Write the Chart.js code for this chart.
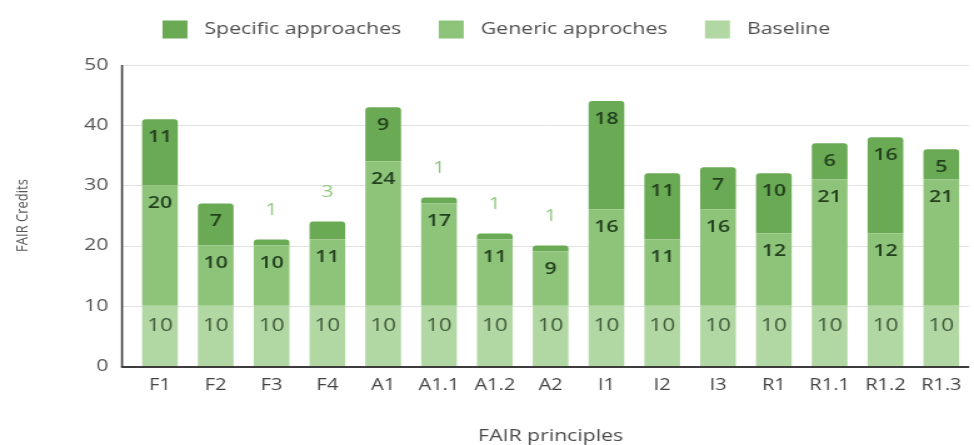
<!DOCTYPE html>
<html>
<head>
<meta charset="utf-8">
<script src="https://cdn.jsdelivr.net/npm/chart.js@4"></script>
<style>
  html, body { margin: 0; padding: 0; background: #fff; }
  /* the original picture is stretched sideways, so the canvas is drawn narrower and widened by CSS */
  #fairChart { display: block; }
</style>
</head>
<body>
<canvas id="fairChart" width="779" height="445" style="width:974px;height:445px"></canvas>
<script>
const categories = ['F1', 'F2', 'F3', 'F4', 'A1', 'A1.1', 'A1.2', 'A2', 'I1', 'I2', 'I3', 'R1', 'R1.1', 'R1.2', 'R1.3'];
const baseline = [10, 10, 10, 10, 10, 10, 10, 10, 10, 10, 10, 10, 10, 10, 10];
const generic = [20, 10, 10, 11, 24, 17, 11, 9, 16, 11, 16, 12, 21, 12, 21];
const specific = [11, 7, 1, 3, 9, 1, 1, 1, 18, 11, 7, 10, 6, 16, 5];
const yTicks = [0, 10, 20, 30, 40, 50];

const colSpecific = 'rgb(106, 170, 84)';
const colGeneric = 'rgb(142, 196, 122)';
const colBaseline = 'rgb(177, 216, 163)';

// grid lines and axis lines start a little left of the plot area, as in the original
const axesPlugin = {
    id: 'axesLines',
    beforeDatasetsDraw(chart) {
        const { ctx, chartArea, scales } = chart;
        const left = chartArea.left - 8;
        ctx.save();
        ctx.strokeStyle = '#e2e2e2';
        ctx.lineWidth = 1;
        yTicks.forEach(v => {
            if (v === 0) return;
            const y = Math.round(scales.y.getPixelForValue(v)) + 0.5;
            ctx.beginPath();
            ctx.moveTo(left, y);
            ctx.lineTo(chartArea.right, y);
            ctx.stroke();
        });
        ctx.restore();
    },
    afterDatasetsDraw(chart) {
        const { ctx, chartArea, scales } = chart;
        const left = chartArea.left - 8;
        const y0 = Math.round(scales.y.getPixelForValue(0)) + 1;
        ctx.save();
        ctx.strokeStyle = '#3c3c3c';
        ctx.lineWidth = 1.6;
        ctx.beginPath();
        ctx.moveTo(left, scales.y.getPixelForValue(50));
        ctx.lineTo(left, y0);
        ctx.stroke();
        ctx.lineWidth = 2;
        ctx.beginPath();
        ctx.moveTo(left - 0.8, y0);
        ctx.lineTo(chartArea.right, y0);
        ctx.stroke();
        ctx.restore();
    }
};

// value labels inside the segments, small ones above the bar
const labelPlugin = {
    id: 'segLabels',
    afterDatasetsDraw(chart) {
        const { ctx } = chart;
        ctx.save();
        ctx.textAlign = 'center';
        ctx.textBaseline = 'middle';
        chart.data.datasets.forEach((ds, i) => {
            const meta = chart.getDatasetMeta(i);
            meta.data.forEach((bar, j) => {
                const v = ds.data[j];
                if (v <= 3) {
                    ctx.font = '17px "Open Sans"';
                    ctx.fillStyle = 'rgb(146, 200, 126)';
                    ctx.fillText(v, bar.x, bar.y - 29);
                } else if (i === 0) {
                    ctx.font = '18px "Open Sans"';
                    ctx.fillStyle = '#3d5838';
                    ctx.fillText(v, bar.x, bar.y + 20);
                } else {
                    ctx.font = '600 17px "Open Sans"';
                    ctx.fillStyle = '#22401e';
                    ctx.fillText(v, bar.x, bar.y + 18);
                }
            });
        });
        ctx.restore();
    }
};

// legend drawn by hand: specific, generic, baseline
const legendPlugin = {
    id: 'topLegend',
    afterDraw(chart) {
        const { ctx } = chart;
        const items = chart.data.datasets.slice().reverse();
        const boxW = 20, boxH = 18, gap = 13.6, itemGap = 30;
        const cy = 29.5;
        ctx.save();
        ctx.font = '17px "Open Sans"';
        ctx.textBaseline = 'middle';
        let total = 0;
        items.forEach((ds, k) => {
            total += boxW + gap + ctx.measureText(ds.label).width + (k < items.length - 1 ? itemGap : 0);
        });
        let x = 397 - total / 2;
        items.forEach(ds => {
            ctx.fillStyle = ds.backgroundColor;
            ctx.fillRect(x, cy - boxH / 2, boxW, boxH);
            x += boxW + gap;
            ctx.fillStyle = '#4f4f4f';
            ctx.fillText(ds.label, x, cy);
            x += ctx.measureText(ds.label).width + itemGap;
        });
        ctx.restore();
    }
};

new Chart(document.getElementById('fairChart'), {
    type: 'bar',
    data: {
        labels: categories,
        datasets: [
            { label: 'Baseline', data: baseline, backgroundColor: colBaseline },
            { label: 'Generic approches', data: generic, backgroundColor: colGeneric },
            {
                label: 'Specific approaches', data: specific, backgroundColor: colSpecific,
                borderRadius: { topLeft: 3, topRight: 3 }, borderSkipped: 'bottom'
            }
        ]
    },
    options: {
        responsive: false,
        animation: false,
        devicePixelRatio: 1,
        categoryPercentage: 0.8,
        barPercentage: 0.8,
        layout: { padding: { top: 65, right: 0, left: 0, bottom: 0 } },
        plugins: {
            legend: { display: false },
            tooltip: { enabled: false }
        },
        scales: {
            x: {
                stacked: true,
                grid: { display: false, drawTicks: false },
                border: { display: false },
                ticks: { color: '#444', padding: 10, font: { family: '"Open Sans"', size: 16 } },
                title: {
                    display: true, text: 'FAIR principles', color: '#4a4a4a',
                    font: { family: '"Open Sans"', size: 17, lineHeight: 1 }, padding: { top: 0, bottom: 0 }
                },
                afterFit(scale) { scale.height = 79; }
            },
            y: {
                stacked: true,
                min: 0, max: 50,
                grid: { display: false, drawTicks: false },
                border: { display: false },
                ticks: { stepSize: 10, color: '#555', padding: 19, font: { family: '"Open Sans"', size: 17 } },
                title: {
                    display: true, text: 'FAIR Credits', color: '#555',
                    font: { family: '"Open Sans"', size: 13 }, padding: { top: 10, bottom: 0 }
                },
                afterFit(scale) { scale.width = 105.6; }
            }
        }
    },
    plugins: [axesPlugin, labelPlugin, legendPlugin]
});
</script>
</body>
</html>
